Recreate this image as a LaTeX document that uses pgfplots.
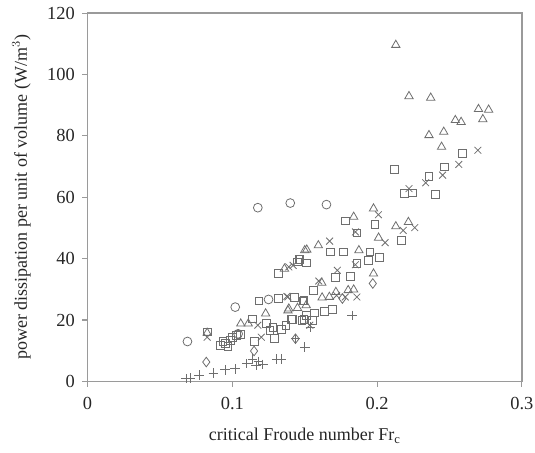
\documentclass[border=0pt]{standalone}
\usepackage{pgfplots}
\pgfplotsset{compat=1.18}
\usepackage{fontspec}
\setmainfont{Liberation Serif}
\definecolor{mk}{HTML}{6E6E6E}
\definecolor{ax}{HTML}{9A9A9A}
\begin{document}
\begin{tikzpicture}
\begin{axis}[
  name=ax,
  scale only axis,
  width=325.5pt, height=276pt,
  xmin=0, xmax=0.3, ymin=0, ymax=120,
  xtick={0,0.1,0.2,0.3}, ytick={0,20,...,120},
  xticklabels={0,0.1,0.2,0.3},
  xtick pos=left, ytick pos=left, tick align=outside,
  major tick length=4pt,
  axis line style={ax, line width=1pt},
  every tick/.style={ax, line width=0.8pt},
  /pgf/number format/assume math mode=true,
  ticklabel style={font=\fontsize{13.8}{15}\selectfont, text=black!85},
  xticklabel style={yshift=-4pt},
  yticklabel style={xshift=-2pt},
  xlabel={critical Froude number Fr$_{\mathrm{c}}$},
  ylabel={power dissipation per unit of volume (W/m$^3$)},
  label style={font=\fontsize{13.5}{15}\selectfont, text=black!85},
  xlabel style={at={(axis description cs:0.5,-0.1467)}, anchor=center},
  ylabel style={at={(axis description cs:-0.152,0.5)}, anchor=center},
  every axis plot/.append style={only marks, mk, line width=0.6pt, mark size=3pt},
]
% circles
\addplot[mark=o, mark size=3.3pt] coordinates {(0.069,13.0)(0.102,24.2)(0.1176,56.6)(0.140,58.1)(0.165,57.6)(0.125,26.7)(0.104,15.5)};
% diamonds
\addplot[mark=diamond, mark size=3.6pt] coordinates {(0.082,6.3)(0.115,9.9)(0.1436,13.9)(0.197,31.9)(0.176,27.0)};
% plus
\addplot[mark=+, mark size=3.6pt] coordinates {(0.068,0.9)(0.071,1.1)(0.077,2.0)(0.087,2.7)(0.095,3.8)(0.102,4.1)(0.110,5.8)(0.114,7.2)(0.1165,5.2)(0.121,5.5)(0.1306,7.2)(0.1337,7.2)(0.1436,13.9)(0.150,11.2)(0.154,17.7)(0.1826,21.5)(0.118,6.5)};
% triangles
\addplot[mark=triangle, mark size=3.6pt] coordinates {(0.2129,109.6)(0.222,92.9)(0.237,92.4)(0.270,88.7)(0.277,88.5)(0.273,85.4)(0.254,85.1)(0.258,84.5)(0.246,81.3)(0.2358,80.2)(0.2445,76.4)(0.1838,53.6)(0.1975,56.3)(0.2129,50.5)(0.2216,51.9)(0.201,46.8)(0.1594,44.3)(0.1514,42.9)(0.1874,42.7)(0.1975,35.1)(0.1618,32.1)(0.1715,29.1)(0.180,29.7)(0.1838,29.9)(0.162,27.3)(0.167,27.5)(0.139,23.7)(0.145,23.9)(0.151,24.8)(0.136,36.7)(0.150,42.7)(0.123,22.1)(0.1058,18.8)(0.111,18.8)(0.1384,23.1)(0.0826,15.8)};
% squares
\addplot[mark=square, mark size=2.9pt] coordinates {(0.2587,74.2)(0.2465,69.9)(0.212,69.0)(0.2358,66.8)(0.219,61.2)(0.2245,61.4)(0.240,61.0)(0.178,52.3)(0.1985,51.2)(0.186,48.4)(0.2169,46.0)(0.1677,42.2)(0.1767,42.2)(0.195,42.2)(0.194,39.5)(0.2016,40.3)(0.186,38.4)(0.146,39.7)(0.151,38.6)(0.171,34.0)(0.1814,34.2)(0.1559,29.7)(0.143,27.3)(0.1495,26.4)(0.1413,20.2)(0.1495,20.1)(0.1566,22.3)(0.1637,22.9)(0.169,23.4)(0.151,21.5)(0.1555,19.9)(0.1318,35.1)(0.1448,38.9)(0.1467,39.8)(0.1183,26.2)(0.1318,27.0)(0.1488,26.2)(0.114,20.4)(0.1235,18.8)(0.128,17.7)(0.126,16.5)(0.134,17.0)(0.137,18.2)(0.141,20.1)(0.148,19.9)(0.129,13.9)(0.115,13.1)(0.0826,16.1)(0.0916,11.7)(0.095,12.3)(0.0935,13.1)(0.0987,13.4)(0.0999,14.4)(0.103,15.0)(0.1058,15.3)(0.097,11.5)};
% x crosses
\addplot[mark=x, mark size=3.6pt] coordinates {(0.2696,75.3)(0.2564,70.7)(0.2452,67.2)(0.2335,64.7)(0.222,62.8)(0.2009,54.3)(0.185,48.7)(0.218,49.2)(0.226,50.1)(0.2055,45.2)(0.1672,45.7)(0.185,38.0)(0.139,37.3)(0.1725,36.2)(0.1597,32.7)(0.178,27.5)(0.186,27.5)(0.172,28.0)(0.1377,27.7)(0.1535,18.3)(0.142,37.8)(0.1384,27.5)(0.1176,18.3)(0.12,14.4)(0.0826,14.4)};
\end{axis}
\pgfresetboundingbox
\path ([shift={(-65.6pt,-53.2pt)}]ax.south west) rectangle ([shift={(9.8pt,9.8pt)}]ax.north east);
\end{tikzpicture}
\end{document}
